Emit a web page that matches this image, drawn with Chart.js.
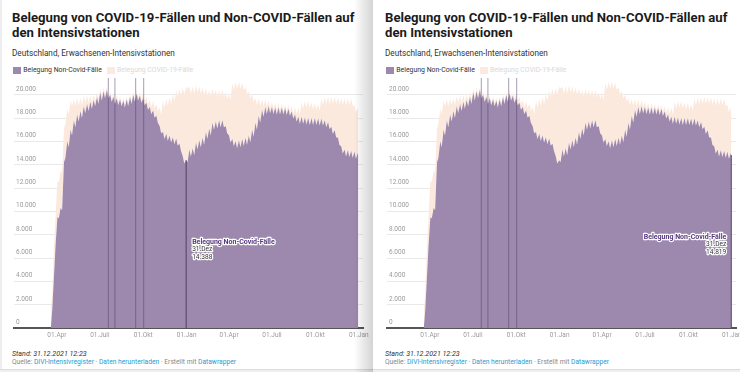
<!DOCTYPE html>
<html lang="de"><head><meta charset="utf-8">
<script src="https://cdn.jsdelivr.net/npm/chart.js"></script>
<style>
*{box-sizing:border-box}
html,body{margin:0;padding:0;width:740px;height:372px;overflow:hidden;background:#fff;font-family:Roboto,"Noto Sans",sans-serif;}
.panel{position:absolute;top:0;height:372px;background:#fff;overflow:hidden}
#p1{left:0;width:373px}
#p2{left:373px;width:367px}
.title{position:absolute;left:12px;top:10.2px;margin:0;font-weight:700;font-size:13.15px;line-height:15.3px;color:#1b1b1b;white-space:nowrap}
.sub{position:absolute;left:12px;top:48.5px;font-size:8.2px;line-height:9.8px;color:#333;white-space:nowrap}
.sw{position:absolute;top:66.5px;width:8px;height:7px}
.lg{position:absolute;top:66px;font-size:6.9px;line-height:8px;white-space:nowrap}
.cv{position:absolute;left:0;top:70px}
.stand{position:absolute;left:12px;top:349.2px;font-size:7.1px;line-height:9px;font-style:italic;color:#333;white-space:nowrap}
.src{position:absolute;left:12px;top:359.1px;font-size:6.7px;line-height:7.6px;color:#888;white-space:nowrap}
.src a{color:#1d9dd0;text-decoration:none}
.shadow{position:absolute;left:354px;top:0;width:19px;height:372px;background:linear-gradient(to right,rgba(0,0,0,0),rgba(0,0,0,0.17))}
.bline{position:absolute;left:0;top:369px;width:100%;height:3px;background:#efefef;border-top:1px solid #dcdcdc}
.ledge{position:absolute;left:0;top:0;width:2px;height:372px;background:#eee}
</style></head><body>

<div class="panel" id="p1">
  <div class="ledge"></div>
  <div class="title">Belegung von COVID-19-Fällen und Non-COVID-Fällen auf<br>den Intensivstationen</div>
  <div class="sub">Deutschland, Erwachsenen-Intensivstationen</div>
  <div class="sw" style="left:12.5px;background:#9d89b0"></div>
  <div class="lg" style="left:23.3px;color:#333">Belegung Non-Covid-Fälle</div>
  <div class="sw" style="left:107px;background:#fde9df"></div>
  <div class="lg" style="left:117px;color:#d9d9d9">Belegung COVID-19-Fälle</div>
  <canvas class="cv" id="c1" width="377" height="272"></canvas>
  <div class="stand">Stand: 31.12.2021 12:23</div>
  <div class="src">Quelle: <a>DIVI-Intensivregister</a> · <a>Daten herunterladen</a> · Erstellt mit <a>Datawrapper</a></div>
  <div class="bline"></div>
  <div class="shadow"></div>
</div>

<div class="panel" id="p2">
  <div class="title">Belegung von COVID-19-Fällen und Non-COVID-Fällen auf<br>den Intensivstationen</div>
  <div class="sub">Deutschland, Erwachsenen-Intensivstationen</div>
  <div class="sw" style="left:12.5px;background:#9d89b0"></div>
  <div class="lg" style="left:23.3px;color:#333">Belegung Non-Covid-Fälle</div>
  <div class="sw" style="left:107px;background:#fde9df"></div>
  <div class="lg" style="left:117px;color:#d9d9d9">Belegung COVID-19-Fälle</div>
  <canvas class="cv" id="c2" width="377" height="272"></canvas>
  <div class="stand">Stand: 31.12.2021 12:23</div>
  <div class="src">Quelle: <a>DIVI-Intensivregister</a> · <a>Daten herunterladen</a> · Erstellt mit <a>Datawrapper</a></div>
  <div class="bline"></div>
</div>

<script>
// ---- Data (day index = days since 01.01.2020) ----
const seriesNonCovid = 'Belegung Non-Covid-Fälle';
const seriesCovid = 'Belegung COVID-19-Fälle';

// weekly values: weekday value (Thursday, first = 19.03.2020) and weekend value (following Sunday)
const firstThursdayDay = 78;
const nonCovidWeekday = [
  0,4600,9500,10300,14200,16000,17000,17800,18300,18600,
  19000,19200,19400,19550,19800,20200,20300,20400,20000,19800,
  19700,19600,19500,19600,19800,20000,20100,19900,19700,19300,
  18950,18650,18200,17300,16800,16650,16500,16350,16250,15800,
  14700,14388,15300,15400,15900,16100,16300,16800,17100,17600,
  17700,17800,17800,17300,16500,16200,16000,16100,16200,16300,
  16500,17000,17600,18200,18700,18950,19000,18950,18900,18900,
  18900,18850,18800,18550,18300,18100,18100,18050,18000,18000,
  18000,17950,17950,17800,17650,17250,16950,16300,15550,15300,
  15250,15200,15100,15000];
const nonCovidWeekend = [
  1500,7000,9400,10100,14600,15500,16500,17200,17700,18000,
  18400,18600,18800,19000,19200,19500,19700,19700,19400,19200,
  19100,19000,18900,19000,19200,19400,19500,19300,19100,18700,
  18350,18050,17600,16700,16200,16050,15900,15750,15650,15200,
  14100,14200,14700,14800,15300,15500,15700,16200,16500,17000,
  17100,17200,17200,16700,15900,15600,15400,15500,15600,15700,
  15900,16400,17000,17600,18100,18350,18400,18350,18300,18300,
  18300,18250,18200,17950,17700,17500,17500,17450,17400,17400,
  17400,17350,17350,17200,17050,16650,16350,15700,14950,14700,
  14650,14600,14500];
const covidWeekly = [
  1500,2500,3100,3200,2900,2800,2500,1800,1400,1100,
  900,700,550,450,400,350,330,300,280,260,
  250,250,250,260,260,280,300,330,370,500,
  600,800,1000,1600,2700,3000,3300,3700,4100,4700,
  5900,6300,5400,5300,4900,4600,4300,3700,3300,2900,
  2700,2600,2600,2900,3600,4800,5100,5000,4800,4350,
  3800,3000,2100,1450,900,650,500,450,400,380,
  350,330,330,450,650,800,1300,1450,1450,1350,
  1300,1250,1750,2000,2150,2550,2850,3450,4150,4400,
  4450,4450,4000,3850];
const lastDay = 730;          // 31.12.2021
const lastNonCovid = 14819;
const lastCovid = 3850;

// data anomalies (single days drawn as thin vertical lines)
const spikeDays = [200, 214, 258, 275];
const spikeTops = [21430, 21430, 21430, 21430];

// hovered points shown in the two screenshots
const hoverDays = [365, 730];
const hoverValues = [14388, 14819];
const hoverDates = ['31.Dez', '31.Dez'];

// axes
const dayMin = 0, dayMax = 740;
const valueMax = 21430;
const xTickDays = [91, 182, 274, 366, 456, 547, 639, 731];
const xTickLabels = ['01.Apr','01.Juli','01.Okt','01.Jan','01.Apr','01.Juli','01.Okt','01.Jan'];
const yTickValues = [0,2000,4000,6000,8000,10000,12000,14000,16000,18000,20000];
const yTickLabels = ['0','2.000','4.000','6.000','8.000','10.000','12.000','14.000','16.000','18.000','20.000'];

// ---- build point lists ----
function buildPoints(weekday, weekend, last) {
  const pts = [];
  for (let k = 0; k < weekday.length; k++) {
    pts.push({x: firstThursdayDay + 7 * k, y: weekday[k]});
    if (k < weekend.length) pts.push({x: firstThursdayDay + 7 * k + 3, y: weekend[k]});
  }
  pts.push({x: lastDay, y: last});
  return pts;
}
const nonCovidPts = buildPoints(nonCovidWeekday, nonCovidWeekend, lastNonCovid);
const covidPts = buildPoints(covidWeekly, covidWeekly.slice(0, nonCovidWeekend.length), lastCovid);
const spikePts = [];
spikeDays.forEach((d, i) => { spikePts.push({x: d, y: 0}, {x: d, y: spikeTops[i]}, {x: d, y: null}); });

function fmt(n) { return String(n).replace(/\B(?=(\d{3})+(?!\d))/g, '.'); }

const hoverLabel = {
  id: 'hoverLabel',
  afterDatasetsDraw(chart, args, opts) {
    const i = opts.index;
    const xs = chart.scales.x, ys = chart.scales.y;
    const px = xs.getPixelForValue(hoverDays[i]);
    const py = ys.getPixelForValue(hoverValues[i]);
    const ctx = chart.ctx;
    ctx.save();
    const lines = [
      {t: seriesNonCovid, f: 'bold 7px Roboto', c: '#553a7d'},
      {t: hoverDates[i], f: '6.6px Roboto', c: '#333'},
      {t: fmt(hoverValues[i]), f: '6.6px Roboto', c: '#333'}
    ];
    let w = 0;
    lines.forEach(l => { ctx.font = l.f; w = Math.max(w, ctx.measureText(l.t).width); });
    const flip = px + 6 + w > chart.chartArea.right;
    ctx.textAlign = flip ? 'right' : 'left';
    const tx = flip ? px - 5 : px + 6;
    ctx.textBaseline = 'middle';
    ctx.lineJoin = 'round';
    lines.forEach((l, j) => {
      const ty = py + 82 + j * 7.5;
      ctx.font = l.f;
      ctx.strokeStyle = '#fff'; ctx.lineWidth = 2.4;
      ctx.strokeText(l.t, tx, ty);
      ctx.fillStyle = l.c;
      ctx.fillText(l.t, tx, ty);
    });
    ctx.restore();
  }
};

function makeChart(id, hi) {
  const hoverPts = [{x: hoverDays[hi], y: 0}, {x: hoverDays[hi], y: hoverValues[hi]}];
  return new Chart(document.getElementById(id), {
    type: 'line',
    data: {
      datasets: [
        {label: seriesNonCovid, data: nonCovidPts, fill: 'origin', backgroundColor: '#9d89ae',
         borderColor: 'rgba(0,0,0,0)', borderWidth: 0, pointRadius: 0, tension: 0, order: 2},
        {label: seriesCovid, data: covidPts, fill: '-1', backgroundColor: '#fce9de',
         borderColor: 'rgba(0,0,0,0)', borderWidth: 0, pointRadius: 0, tension: 0, order: 3},
        {label: 'spikes', data: spikePts, yAxisID: 'y2', fill: false, borderColor: 'rgba(80,60,105,0.5)',
         borderWidth: 1, pointRadius: 0, spanGaps: false, order: 1},
        {label: 'hover', data: hoverPts, yAxisID: 'y2', fill: false, borderColor: '#4f4260',
         borderWidth: 1, pointRadius: 0, order: 0}
      ]
    },
    options: {
      responsive: false, animation: false, devicePixelRatio: 1,
      layout: {padding: {left: 10, right: 14, top: 8, bottom: 0.2}},
      plugins: {legend: {display: false}, tooltip: {enabled: false}, hoverLabel: {index: hi}},
      events: [],
      scales: {
        x: {
          type: 'linear', min: dayMin, max: dayMax, offset: false, z: 1,
          grid: {display: false, offset: false, drawTicks: false},
          border: {display: true, color: '#555', width: 2},
          afterBuildTicks: ax => { ax.ticks = xTickDays.map(v => ({value: v})); },
          ticks: {autoSkip: false, maxRotation: 0, padding: 3, color: '#9a9a9a',
                  font: {family: 'Roboto', size: 6.5},
                  callback: (v, i) => xTickLabels[i]}
        },
        y: {
          stacked: true, min: 0, max: valueMax, z: 1,
          grid: {color: 'rgba(0,0,0,0.085)', lineWidth: 1, drawTicks: false},
          border: {display: false},
          afterBuildTicks: ax => { ax.ticks = yTickValues.map(v => ({value: v})); },
          ticks: {mirror: true, padding: 2, labelOffset: -5.5, color: '#9a9a9a',
                  font: {family: 'Roboto', size: 6.5},
                  callback: (v, i) => yTickLabels[i]}
        },
        y2: {display: false, min: 0, max: valueMax, stacked: false}
      }
    },
    plugins: [hoverLabel]
  });
}
makeChart('c1', 0);
makeChart('c2', 1);
</script>
</body></html>
